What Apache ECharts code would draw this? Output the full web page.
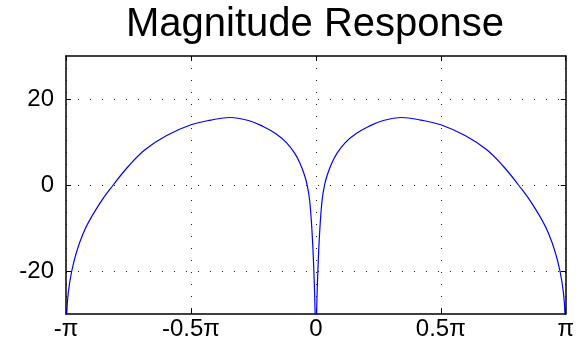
<!DOCTYPE html>
<html>
<head>
<meta charset="utf-8">
<script src="https://cdn.jsdelivr.net/npm/echarts@6/dist/echarts.min.js"></script>
<style>
body { margin: 0; padding: 0; background: #fff; }
#main { width: 577px; height: 341px; }
</style>
</head>
<body>
<div id="main"></div>
<script>
// frequency in units of pi, magnitude in dB
var freq = [-1, -0.997, -0.977, -0.931, -0.864, -0.811, -0.751, -0.684, -0.597, -0.5, -0.42,
  -0.344, -0.27, -0.211, -0.16, -0.117, -0.085, -0.064, -0.045, -0.035, -0.025, -0.015, -0.008, -0.003, 0,
  0.003, 0.008, 0.015, 0.025, 0.035, 0.045, 0.064, 0.085, 0.117, 0.16, 0.211, 0.27, 0.344,
  0.42, 0.5, 0.597, 0.684, 0.751, 0.811, 0.864, 0.931, 0.977, 0.997, 1]
var magDb = [-45, -30, -20, -11.2, -4.2, 0, 4.3, 8.2, 11.5, 14.0, 15.1,
  15.7, 15.0, 13.6, 11.9, 9.8, 7.4, 5.1, 2.2, 0, -3.5, -11.2, -20, -30, -45,
  -30, -20, -11.2, -3.5, 0, 2.2, 5.1, 7.4, 9.8, 11.9, 13.6, 15.0, 15.7,
  15.1, 14.0, 11.5, 8.2, 4.3, 0, -4.2, -11.2, -20, -30, -45]
var xTicks = [-1, -0.5, 0, 0.5, 1]
var xTickLabels = ['-π', '-0.5π', '0', '0.5π', 'π']
var yTicks = [-20, 0, 20]

var pts = freq.map(function (f, i) { return [f, magDb[i]] })
var font = 'Liberation Sans, Helvetica, Arial, sans-serif'
var grid = { type: [1, 11], color: '#222', width: 1 }

function xAx (pos, show) {
  return {
    type: 'value', position: pos, min: -1, max: 1, interval: 0.5,
    axisLine: { show: true, onZero: false, lineStyle: { color: '#000', width: 1.5 } },
    axisTick: { show: true, inside: true, length: 5, lineStyle: { color: '#000' } },
    axisLabel: {
      show: show, margin: 3, fontSize: 24, color: '#000', fontFamily: font,
      formatter: function (v) { var k = xTicks.indexOf(v); return k >= 0 ? xTickLabels[k] : '' }
    },
    splitLine: { show: show, lineStyle: grid }
  }
}
function yAx (pos, show) {
  return {
    type: 'value', position: pos, min: -30, max: 30,
    axisLine: { show: true, onZero: false, lineStyle: { color: '#000', width: 1.5 } },
    axisTick: { show: true, inside: true, length: 5, customValues: yTicks, lineStyle: { color: '#000' } },
    axisLabel: { show: show, customValues: yTicks, margin: 12, fontSize: 24, color: '#000', fontFamily: font },
    splitLine: { show: show, lineStyle: grid }
  }
}

var chart = echarts.init(document.getElementById('main'))
chart.setOption({
  animation: false,
  backgroundColor: '#fff',
  title: {
    text: 'Magnitude Response', left: 126, top: 5, padding: 0,
    textStyle: { fontSize: 40, fontWeight: 'normal', color: '#000', fontFamily: font }
  },
  grid: { left: 66, right: 11, top: 56, bottom: 26, containLabel: false },
  xAxis: [xAx('bottom', true), xAx('top', false)],
  yAxis: [yAx('left', true), yAx('right', false)],
  series: [{
    type: 'line', data: pts, showSymbol: false, smooth: 0.4,
    clip: true, lineStyle: { color: '#0000ff', width: 1.2 }
  }]
})
</script>
</body>
</html>
